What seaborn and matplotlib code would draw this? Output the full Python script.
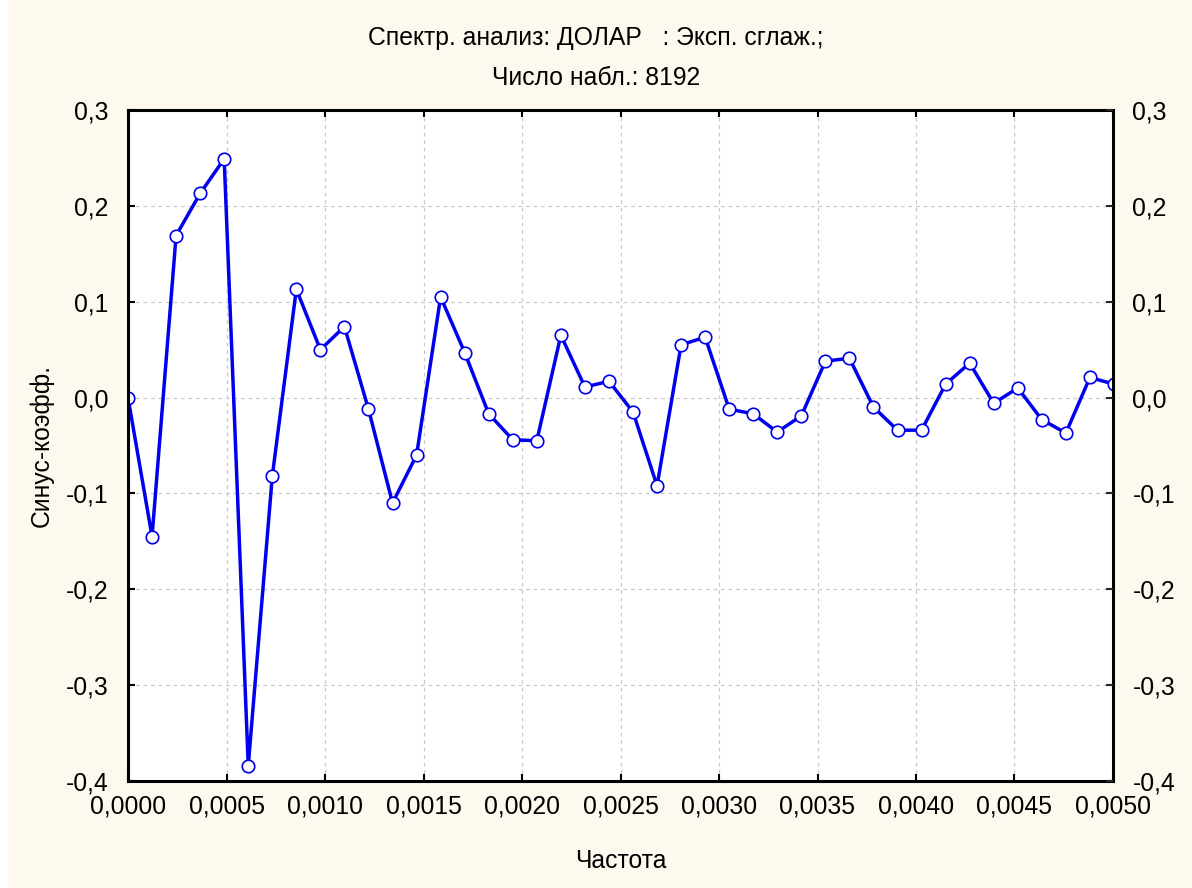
import matplotlib
matplotlib.use("Agg")
import matplotlib.pyplot as plt
import seaborn as sns
import numpy as np
import pandas as pd
from matplotlib.patches import Rectangle

# Sine coefficients of the smoothed spectrum, frequency step 1/8192
n_obs = 8192
harmonic = list(range(42))
sine_coef = [0.000, -0.145, 0.169, 0.213, 0.249, -0.384, -0.082, 0.113, 0.050, 0.074,
             -0.012, -0.110, -0.060, 0.105, 0.047, -0.017, -0.044, -0.045, 0.065, 0.011,
             0.017, -0.015, -0.092, 0.055, 0.063, -0.012, -0.017, -0.036, -0.019, 0.038,
             0.041, -0.010, -0.034, -0.034, 0.014, 0.036, -0.006, 0.010, -0.023, -0.037,
             0.021, 0.014]

x_ticks = [0.0000, 0.0005, 0.0010, 0.0015, 0.0020, 0.0025, 0.0030, 0.0035, 0.0040, 0.0045, 0.0050]
y_ticks = [-0.4, -0.3, -0.2, -0.1, 0.0, 0.1, 0.2, 0.3]

df = pd.DataFrame({"freq": np.array(harmonic) / n_obs, "coef": sine_coef})

sns.set_theme(style="white")
plt.rcParams["font.family"] = ["Liberation Sans", "DejaVu Sans"]
plt.rcParams["text.color"] = "black"

fs = 17.8
bg = "#FDF9EF"
fig = plt.figure(figsize=(11.92, 8.88), dpi=100, facecolor=bg)
# narrow white margin along the left edge
fig.patches.append(Rectangle((0, 0), 8 / 1192, 1, transform=fig.transFigure,
                             facecolor="white", edgecolor="none", zorder=0))

ax = fig.add_axes([128 / 1192, 1 - 781 / 888, (1113 - 128) / 1192, (781 - 110) / 888])
ax.set_facecolor("white")

sns.lineplot(data=df, x="freq", y="coef", ax=ax, color="#0000EE", linewidth=2.5,
             marker="o", markersize=9, markerfacecolor="white",
             markeredgecolor="#0000EE", markeredgewidth=1.2)

ax.set_xlim(0, 0.005)
ax.set_ylim(-0.4, 0.3)
ax.set_xticks(x_ticks)
ax.set_yticks(y_ticks)

def comma(v, digits):
    return f"{v:.{digits}f}".replace(".", ",")

ax.set_xticklabels([comma(v, 4) for v in x_ticks], fontsize=fs)
ax.set_yticklabels([comma(v, 1) for v in y_ticks], fontsize=fs)

ax.grid(True, color="#C8C8C8", linestyle=(0, (3, 3)), linewidth=0.9)
ax.tick_params(direction="in", length=5, width=1.5, color="black",
               top=True, right=True, left=True, bottom=True,
               labelcolor="black", pad=10)
ax.tick_params(axis="y", pad=14)
for s in ax.spines.values():
    s.set_color("black")
    s.set_linewidth(2.2)

# Mirrored value scale on the right
ax2 = ax.twinx()
ax2.set_ylim(ax.get_ylim())
ax2.set_yticks(y_ticks)
ax2.set_yticklabels([comma(v, 1) for v in y_ticks], fontsize=fs)
ax2.tick_params(direction="in", length=5, width=1.5, labelcolor="black", pad=14)
for s in ax2.spines.values():
    s.set_visible(False)

ax.set_xlabel("Частота", fontsize=fs, color="black", labelpad=22)
ax.set_ylabel("Синус-коэфф.", fontsize=fs, color="black", labelpad=9)

fig.text(0.5, 1 - 38 / 888, "Спектр. анализ: ДОЛАР   : Эксп. сглаж.;",
         ha="center", va="center", fontsize=fs, color="black")
fig.text(0.5, 1 - 78 / 888, "Число набл.: 8192", ha="center", va="center",
         fontsize=fs, color="black")

fig.savefig("out.png", dpi=100, facecolor=bg)
